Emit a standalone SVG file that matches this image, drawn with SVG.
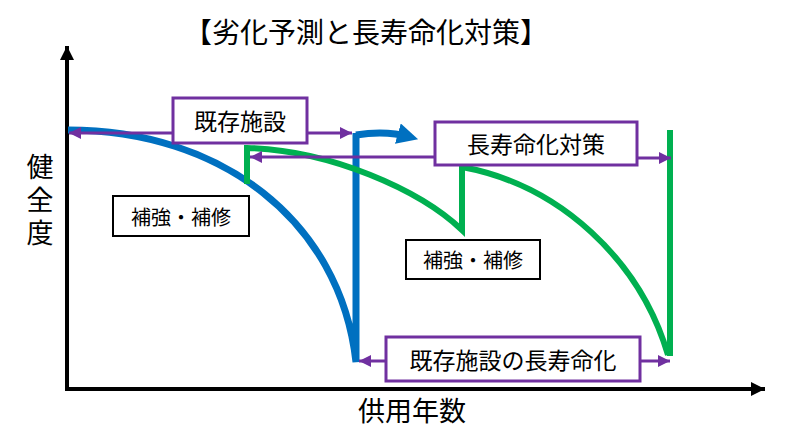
<svg xmlns="http://www.w3.org/2000/svg" width="800" height="433" viewBox="0 0 800 433">
<style>
text{font-family:"Noto Sans CJK JP","Noto Sans CJK SC",sans-serif;fill:#000;text-anchor:middle;dominant-baseline:central}
.pbox{fill:#fff;stroke:#7030A0;stroke-width:3}
.kbox{fill:#fff;stroke:#000;stroke-width:2}
.parr{fill:none;stroke:#7030A0;stroke-width:3;marker-end:url(#pa)}
.blue{fill:none;stroke:#0070C0;stroke-width:7;stroke-linejoin:miter}
.green{fill:none;stroke:#00B050;stroke-width:6;stroke-linejoin:miter}
.axis{fill:none;stroke:#000;stroke-width:4;marker-end:url(#ka)}
</style>
<defs>
<marker id="pa" viewBox="0 0 10 10" refX="10" refY="5" markerWidth="4.5" markerHeight="4" markerUnits="strokeWidth" orient="auto">
<path d="M0,0 L10,5 L0,10 z" fill="#7030A0"/>
</marker>
<marker id="ka" viewBox="0 0 10 10" refX="10" refY="5" markerWidth="4" markerHeight="3.5" markerUnits="strokeWidth" orient="auto">
<path d="M0,0 L10,5 L0,10 z" fill="#000"/>
</marker>
<marker id="ba" viewBox="0 0 10 10" refX="6" refY="5" markerWidth="3" markerHeight="3" markerUnits="strokeWidth" orient="auto">
<path d="M0,0 L10,5 L0,10 z" fill="#0070C0"/>
</marker>
</defs>

<text x="366" y="31" font-size="28">【劣化予測と長寿命化対策】</text>

<g id="axes">
<path class="axis" d="M67,390 L67,46"/>
<path class="axis" d="M65,389 L765,389"/>
<text x="40" y="203" font-size="27" writing-mode="vertical-rl" letter-spacing="6">健全度</text>
<text x="412" y="409" font-size="27">供用年数</text>
</g>

<g id="curves">
<path class="blue" d="M68,130 C220,130 340,220 356,362 L356,133"/>
<path class="blue" d="M356,135 C380,131 396,133 410,137" marker-end="url(#ba)"/>
<path class="green" d="M247,184 L247,148 C330,150 420,190 462,230 L462,167 C560,185 640,260 668,355"/>
<path class="green" d="M670,356 L670,130"/>
</g>

<g id="connectors">
<path class="parr" d="M173,133 L69,133"/>
<path class="parr" d="M307,133 L352,133"/>
<path class="parr" d="M435,157 L250,157"/>
<path class="parr" d="M637,158 L671,158"/>
<path class="parr" d="M386,361 L359,361"/>
<path class="parr" d="M640,361 L670,361"/>
</g>

<g id="node-kizon">
<rect class="pbox" x="173" y="98" width="134" height="45"/>
<text x="240" y="120" font-size="23">既存施設</text>
</g>
<g id="node-taisaku">
<rect class="pbox" x="435" y="122" width="202" height="43"/>
<text x="536" y="143" font-size="23">長寿命化対策</text>
</g>
<g id="node-hokyo1">
<rect class="kbox" x="113" y="196" width="136" height="40"/>
<text x="181" y="216" font-size="20">補強・補修</text>
</g>
<g id="node-hokyo2">
<rect class="kbox" x="406" y="240" width="134" height="39"/>
<text x="473" y="259.5" font-size="20">補強・補修</text>
</g>
<g id="node-chojumyo">
<rect class="pbox" x="386" y="337" width="254" height="44"/>
<text x="513" y="359" font-size="23">既存施設の長寿命化</text>
</g>
</svg>
